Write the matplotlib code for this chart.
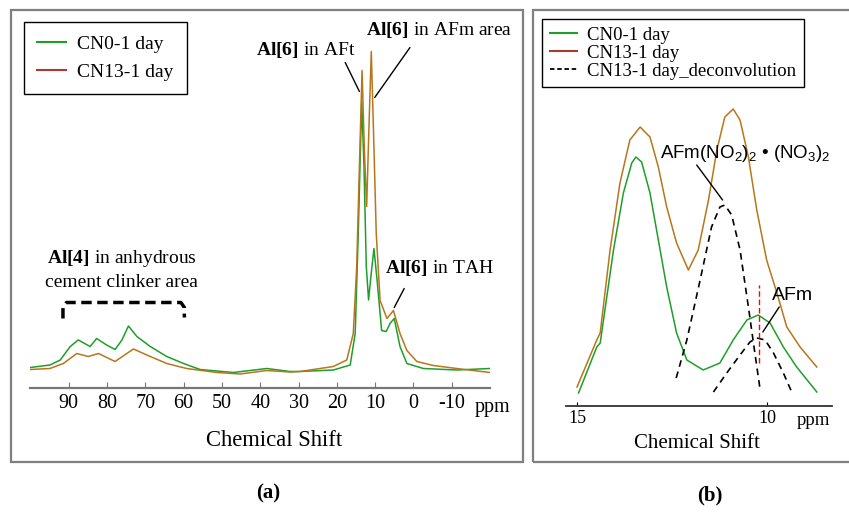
import matplotlib
matplotlib.use('Agg')
import matplotlib.pyplot as plt
from matplotlib.lines import Line2D
from matplotlib.patches import Rectangle

plt.rcParams['font.family'] = 'Liberation Serif'
plt.rcParams['mathtext.fontset'] = 'custom'
plt.rcParams['mathtext.rm'] = 'Liberation Serif'
plt.rcParams['mathtext.bf'] = 'Liberation Serif:bold'
plt.rcParams['axes.unicode_minus'] = False

# (a) 27Al NMR, full range
ppm_cn0_a = [100, 94.9, 92.2, 89.6, 87.5, 84.4, 82.7, 80.1, 77.9, 76.1, 74.4, 72.2, 68.7, 64.4,
             60, 55.7, 47, 38.3, 32.2, 29.6, 20.9, 16.5, 15.2, 14.4, 13.5, 12.9, 12.3, 11.7,
             11.1, 10.3, 9.4, 8.3, 7.1, 6.1, 5.0, 3.5, 1.7, -2.6, -11.3, -20]
int_cn0_a = [20, 22.5, 27.5, 41, 47.5, 41, 49, 42.5, 38, 47.5, 61.5, 51, 41, 31,
             24, 18, 15, 19, 16, 16, 17.5, 22.5, 54, 154, 286, 221, 121, 87.5,
             111, 139, 104, 57, 56, 64, 69, 41, 24, 19, 17.5, 19]

ppm_cn13_a = [100, 94.9, 91.4, 87.9, 84.9, 82.2, 77.9, 73.1, 68.7, 64.4, 59.2, 51.3, 45.2, 38.3,
              32.2, 29.6, 20.9, 17.4, 15.7, 14.8, 14.1, 13.4, 12.8, 12.2, 11.65, 11.0, 10.4,
              9.7, 8.7, 6.9, 5.2, 3.5, 1.7, -0.9, -5.2, -11.3, -20]
int_cn13_a = [18, 19, 24, 34, 31, 34, 26, 38.5, 31, 24, 19, 15, 13.5, 17,
              15.5, 16, 21, 27.5, 54, 121, 221, 317, 237, 181, 254, 336, 254,
              154, 87, 69, 77, 54, 37, 26, 22, 19, 15]

ticks_a = [90, 80, 70, 60, 50, 40, 30, 20, 10, 0, -10]
tick_labels_a = ['90', '80', '70', '60', '50', '40', '30', '20', '10', '0', '-10']

# bracket over the Al[4] region
bracket_x = [91.5, 91.5, 90.6, 60.7, 59.8, 59.8]
bracket_y = [69, 80, 85, 85, 80, 70]

# (b) zoom 15-8 ppm
ppm_cn0_b = [14.96, 14.48, 14.39, 14.04, 13.78, 13.56, 13.45, 13.30, 13.08, 12.86, 12.64,
             12.38, 12.11, 11.68, 11.24, 10.89, 10.53, 10.23, 9.92, 9.57, 9.22, 8.69]
int_cn0_b = [13, 59, 63, 156, 213, 243, 249, 244, 213, 166, 119,
             73, 46, 36, 43, 66, 86, 91, 83, 59, 39, 14]

ppm_cn13_b = [15.0, 14.48, 14.39, 14.13, 13.87, 13.61, 13.34, 13.08, 12.86, 12.64, 12.38,
              12.07, 11.81, 11.54, 11.32, 11.11, 10.89, 10.71, 10.49, 10.27, 10.01, 9.74,
              9.48, 9.13, 8.69]
int_cn13_b = [19, 66, 73, 156, 223, 266, 279, 269, 239, 199, 163,
              136, 156, 206, 256, 289, 297, 286, 249, 196, 146, 113,
              79, 59, 39]

ppm_dec1 = [12.39, 12.11, 11.76, 11.46, 11.24, 11.11, 10.93, 10.71, 10.49, 10.32, 10.18]
int_dec1 = [28, 66, 126, 179, 199, 201, 191, 156, 99, 53, 16]
ppm_dec2 = [11.41, 11.06, 10.71, 10.45, 10.27, 10.05, 9.83, 9.57, 9.35]
int_dec2 = [14, 33, 51, 64, 68, 66, 53, 33, 14]

afm_line_ppm = 10.2
afm_line_int = [43, 121]

green = '#1f9e2a'
brown = '#b8761c'
legend_red = '#a83a32'

W, H = 849, 513
fig = plt.figure(figsize=(W / 100, H / 100), dpi=100)


def fx(px):
    return px / W


def fy(py):
    return 1 - py / H


# outer frames
fig.add_artist(Rectangle((fx(11), fy(462)), (523 - 11) / W, (462 - 10) / H,
                         transform=fig.transFigure, fill=False, ec='#7f7f7f', lw=1.6))
fig.add_artist(Rectangle((fx(533), fy(462)), (870 - 533) / W, (462 - 10) / H,
                         transform=fig.transFigure, fill=False, ec='#7f7f7f', lw=1.6))

# ---- panel (a)
ax = fig.add_axes([fx(30.4), fy(387.5), (490 - 30.4) / W, (387.5 - 30) / H])
ax.plot(ppm_cn0_a, int_cn0_a, color=green, lw=1.1)
ax.plot(ppm_cn13_a, int_cn13_a, color=brown, lw=1.1)
ax.plot(bracket_x, bracket_y, color='black', lw=2.5, ls=(0, (3, 1.6)))
ax.set_xlim(100, -20)
ax.set_ylim(0, 357.5)
for s in ['left', 'right', 'top']:
    ax.spines[s].set_visible(False)
ax.spines['bottom'].set_color('#777777')
ax.spines['bottom'].set_linewidth(1.6)
ax.set_yticks([])
ax.set_xticks(ticks_a)
ax.set_xticklabels(tick_labels_a)
ax.tick_params(axis='x', direction='in', length=4, color='#777777', labelsize=14.5, pad=5)
ax.patch.set_alpha(0)

arrow = dict(arrowstyle='-', color='black', lw=1.0, shrinkA=0, shrinkB=0)
ax.annotate('', xy=(14.1, 296), xytext=(17.8, 325), arrowprops=arrow)
ax.annotate('', xy=(10.1, 290), xytext=(0.9, 340), arrowprops=arrow)
ax.annotate('', xy=(5.0, 80), xytext=(2.4, 99), arrowprops=arrow)
ax.text(28.2, 337, '$\\mathbf{Al[6]}$ in AFt', fontsize=14, ha='center', va='center')
ax.text(-6.6, 357, '$\\mathbf{Al[6]}$ in AFm area', fontsize=14, ha='center', va='center',
        clip_on=False)
ax.text(-6.9, 119, '$\\mathbf{Al[6]}$ in TAH', fontsize=14, ha='center', va='center')
ax.text(76.1, 129, '$\\mathbf{Al[4]}$ in anhydrous', fontsize=14, ha='center', va='center')
ax.text(76.1, 105, 'cement clinker area', fontsize=14, ha='center', va='center')

handles_a = [Line2D([], [], color=green, lw=1.5), Line2D([], [], color=legend_red, lw=1.5)]
leg = fig.legend(handles_a, ['CN0-1 day', 'CN13-1 day'], loc='upper left',
                 bbox_to_anchor=(fx(23.7), fy(22)), bbox_transform=fig.transFigure,
                 fontsize=14, fancybox=False, edgecolor='black', framealpha=1,
                 borderpad=0.7, handlelength=1.45, handletextpad=0.6, labelspacing=0.5,
                 borderaxespad=0)
leg.get_frame().set_linewidth(1.0)

fig.text(fx(492), fy(412), 'ppm', fontsize=14.5, ha='center', va='baseline')
fig.text(fx(274), fy(440), 'Chemical Shift', fontsize=16.3, ha='center', va='center')
fig.text(fx(268), fy(493), '(a)', fontsize=15, fontweight='bold', ha='center', va='center')

# ---- panel (b)
bx = fig.add_axes([fx(566), fy(406), (832 - 566) / W, (406 - 30) / H])
bx.plot(ppm_cn0_b, int_cn0_b, color=green, lw=1.1)
bx.plot(ppm_cn13_b, int_cn13_b, color=brown, lw=1.1)
bx.plot(ppm_dec1, int_dec1, color='black', lw=1.2, ls=(0, (4, 3)))
bx.plot(ppm_dec2, int_dec2, color='black', lw=1.2, ls=(0, (4, 3)))
bx.plot([afm_line_ppm, afm_line_ppm], afm_line_int, color='red', lw=1.0, ls=(0, (4, 2)))
bx.set_xlim(15.29, 8.29)
bx.set_ylim(0, 376)
for s in ['left', 'right', 'top']:
    bx.spines[s].set_visible(False)
bx.spines['bottom'].set_color('#333333')
bx.spines['bottom'].set_linewidth(1.3)
bx.set_yticks([])
bx.set_xticks([15, 10])
bx.set_xticklabels(['15', '10'])
bx.tick_params(axis='x', direction='in', length=3, labelsize=13, pad=3)
bx.patch.set_alpha(0)

bx.annotate('', xy=(11.17, 206), xytext=(11.85, 241), arrowprops=arrow)
bx.annotate('', xy=(10.11, 74), xytext=(9.68, 99), arrowprops=arrow)
bx.text(10.58, 253,
        'AFm(NO$\\mathregular{_2}$)$\\mathregular{_2}$ • (NO$\\mathregular{_3}$)$\\mathregular{_2}$',
        family='Liberation Sans', fontsize=13.5, ha='center', va='center', clip_on=False)
bx.text(9.33, 111, 'AFm', family='Liberation Sans', fontsize=14, ha='center', va='center')

handles_b = [Line2D([], [], color=green, lw=1.5), Line2D([], [], color=legend_red, lw=1.5),
             Line2D([], [], color='black', lw=1.3, ls=(0, (2.5, 1.5)))]
legb = fig.legend(handles_b, ['CN0-1 day', 'CN13-1 day', 'CN13-1 day_deconvolution'],
                  loc='upper left', bbox_to_anchor=(fx(542), fy(19)),
                  bbox_transform=fig.transFigure, fontsize=13.5, fancybox=False,
                  edgecolor='black', framealpha=1, borderpad=0.4, handlelength=1.45,
                  handletextpad=0.55, labelspacing=0.05, borderaxespad=0)
legb.get_frame().set_linewidth(1.0)

fig.text(fx(813), fy(425), 'ppm', fontsize=13.5, ha='center', va='baseline')
fig.text(fx(697), fy(443), 'Chemical Shift', fontsize=15, ha='center', va='center')
fig.text(fx(710), fy(495), '(b)', fontsize=15, fontweight='bold', ha='center', va='center')

fig.savefig('out.png', dpi=100)
